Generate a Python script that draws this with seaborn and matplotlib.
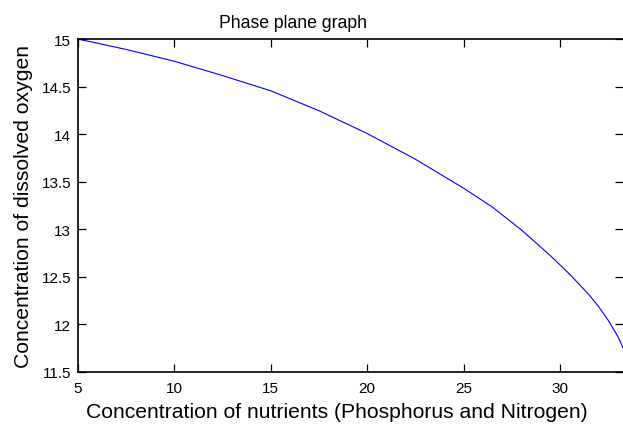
import matplotlib
matplotlib.use("Agg")
import matplotlib.pyplot as plt
import seaborn as sns
import pandas as pd

nutrients = [5, 7.5, 10, 12.5, 15, 17.5, 20, 22.5, 25, 26.5, 28, 29.5,
             30.5, 31.5, 32, 32.5, 33, 33.27]
oxygen = [15.0, 14.89, 14.766, 14.615, 14.455, 14.245, 14.005, 13.735, 13.43,
          13.23, 12.99, 12.72, 12.525, 12.31, 12.185, 12.04, 11.87, 11.75]
x_ticks = [5, 10, 15, 20, 25, 30]
y_ticks = [11.5, 12, 12.5, 13, 13.5, 14, 14.5, 15]
y_tick_labels = ["11.5", "12", "12.5", "13", "13.5", "14", "14.5", "15"]

df = pd.DataFrame({"x": nutrients, "y": oxygen})

sns.set_style("ticks")
plt.rcParams["font.family"] = ["Liberation Sans", "DejaVu Sans"]

fig = plt.figure(figsize=(6.23, 4.27), dpi=100)
ax = fig.add_axes([0.1252, 0.1276, 0.8748, 0.7787])

sns.lineplot(data=df, x="x", y="y", ax=ax, color="#0000ff", linewidth=0.8,
             sort=False, estimator=None)

ax.set_xlim(5, 33.27)
ax.set_ylim(11.5, 15)
ax.set_xticks(x_ticks)
ax.set_xticklabels([str(t) for t in x_ticks])
ax.set_yticks(y_ticks)
ax.set_yticklabels(y_tick_labels)

ax.tick_params(axis="both", direction="in", length=5.5, width=0.9,
               labelsize=11, colors="black", top=True, right=True)
ax.tick_params(axis="x", pad=6.5)
ax.tick_params(axis="y", pad=5)
for side in ["left", "bottom", "top"]:
    ax.spines[side].set_linewidth(1.2)
    ax.spines[side].set_color("black")
ax.spines["right"].set_visible(False)

ax.set_xlabel("Concentration of nutrients (Phosphorus and Nitrogen)",
              fontsize=15.2, labelpad=5.5, color="black")
ax.xaxis.label.set_x(0.474)
ax.set_ylabel("Concentration of dissolved oxygen", fontsize=15.2,
              labelpad=6, color="black")
ax.set_title("Phase plane graph", fontsize=12.7, pad=8.5, color="black", x=0.395)

fig.savefig("out.png", dpi=100)
